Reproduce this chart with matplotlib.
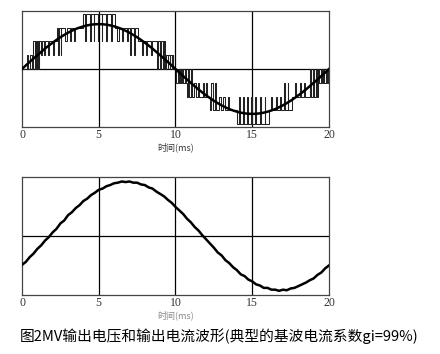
import matplotlib
matplotlib.use("Agg")
import matplotlib.pyplot as plt

plt.rcParams['font.family'] = ['Noto Sans CJK SC', 'DejaVu Sans']

# Data: multilevel output voltage (switch times in ms, level after each switch)
switch_times = [
    0.00, 0.30, 0.42, 0.55, 0.62, 0.74, 0.82, 0.88, 0.96, 1.02, 1.10, 1.14, 1.21, 1.30, 1.45,
    1.52, 1.72, 1.78, 2.00, 2.06, 2.26, 2.34, 2.40, 2.52, 2.57, 2.80, 2.90, 3.10, 3.16, 3.38,
    3.44, 4.00, 4.10, 4.18, 4.40, 4.47, 4.66, 4.72, 4.92, 4.98, 5.18, 5.24, 5.46, 5.52, 5.80,
    5.88, 6.06, 6.22, 6.30, 6.52, 6.60, 6.84, 6.90, 7.04, 7.10, 7.30, 7.36, 7.58, 7.80, 7.86,
    8.10, 8.16, 8.40, 8.46, 8.77, 8.83, 8.98, 9.04, 9.16, 9.22, 9.30, 9.36, 9.48, 9.54, 9.62,
    9.66, 9.76, 9.80, 9.86,
    10.00, 10.06, 10.14, 10.20, 10.28, 10.34, 10.40, 10.46, 10.60, 10.66, 10.74, 10.80, 10.86,
    11.00, 11.06, 11.18, 11.32, 11.48, 11.56, 11.76, 11.84, 12.00, 12.06, 12.26, 12.34, 12.42,
    12.56, 12.62, 12.84, 12.94, 13.12, 13.20, 13.40, 13.46, 14.00, 14.12, 14.20, 14.40, 14.48,
    14.66, 14.74, 14.94, 15.00, 15.20, 15.27, 15.48, 15.54, 15.80, 15.86, 16.08, 16.22, 16.30,
    16.52, 16.60, 16.82, 16.88, 17.04, 17.12, 17.30, 17.36, 17.58, 17.80, 17.88, 18.10, 18.18,
    18.40, 18.46, 18.74, 18.82, 18.96, 19.04, 19.16, 19.22, 19.30, 19.36, 19.48, 19.54, 19.62,
    19.68, 19.78, 19.84, 19.92, 20.00,
]
switch_levels = [
    0, 1, 0, 1, 0, 2, 0, 2, 0, 2, 0, 2, 1, 2, 1,
    2, 1, 2, 1, 2, 3, 1, 3, 1, 3, 2, 3, 2, 3, 2,
    3, 4, 2, 4, 2, 4, 2, 4, 2, 4, 2, 4, 2, 4, 2,
    4, 3, 2, 3, 2, 3, 2, 3, 1, 3, 1, 3, 2, 1, 2,
    1, 2, 1, 2, 0, 2, 0, 2, 0, 2, 0, 1, 0, 1, 0,
    1, 0, 1, 0,
    0, -1, 0, -1, 0, -1, 0, -1, 0, -1, -2, 0, -2,
    0, -2, -1, -2, -1, -2, -1, -2, -1, -2, -3, -1, -3,
    -1, -3, -2, -3, -2, -3, -2, -3, -4, -2, -4, -2, -4,
    -2, -4, -2, -4, -2, -4, -2, -4, -2, -4, -3, -2, -3,
    -2, -3, -2, -3, -1, -3, -1, -3, -2, -1, -2, -1, -2,
    -1, -2, 0, -2, 0, -2, 0, -2, 0, -1, 0, -1, 0,
    -1, 0, -1, 0, 0,
]

# fundamental of output voltage, sampled every 0.25 ms
time_ms = [i * 0.25 for i in range(81)]
fundamental = [
    0.00, 0.26, 0.51, 0.76, 1.00, 1.24, 1.48, 1.70, 1.91, 2.11, 2.30, 2.47, 2.63, 2.77,
    2.90, 3.00, 3.09, 3.16, 3.21, 3.24, 3.25, 3.24, 3.21, 3.16, 3.09, 3.00, 2.90, 2.77,
    2.63, 2.47, 2.30, 2.11, 1.91, 1.70, 1.48, 1.24, 1.00, 0.76, 0.51, 0.26, 0.00,
    -0.26, -0.51, -0.76, -1.00, -1.24, -1.48, -1.70, -1.91, -2.11, -2.30, -2.47, -2.63, -2.77,
    -2.90, -3.00, -3.09, -3.16, -3.21, -3.24, -3.25, -3.24, -3.21, -3.16, -3.09, -3.00, -2.90,
    -2.77, -2.63, -2.47, -2.30, -2.11, -1.91, -1.70, -1.48, -1.24, -1.00, -0.76, -0.51, -0.26, 0.00,
]

# output current (normalised)
current = [
    -0.49, -0.44, -0.36, -0.30, -0.22, -0.16, -0.08, -0.02, 0.06, 0.12, 0.21, 0.26, 0.35, 0.40,
    0.47, 0.52, 0.59, 0.63, 0.69, 0.73, 0.78, 0.80, 0.84, 0.86, 0.89, 0.90, 0.92, 0.91,
    0.92, 0.90, 0.90, 0.87, 0.86, 0.82, 0.80, 0.75, 0.71, 0.67, 0.61, 0.56, 0.49,
    0.43, 0.37, 0.29, 0.23, 0.15, 0.09, 0.01, -0.06, -0.13, -0.20, -0.28, -0.33, -0.41,
    -0.46, -0.53, -0.58, -0.65, -0.68, -0.74, -0.77, -0.82, -0.84, -0.88, -0.88, -0.91, -0.91,
    -0.93, -0.91, -0.92, -0.89, -0.88, -0.85, -0.82, -0.79, -0.75, -0.72, -0.66, -0.62, -0.55, -0.50,
]

xticks = [0, 5, 10, 15, 20]

fig = plt.figure(figsize=(4.4, 3.54), dpi=100)
ax1 = fig.add_axes([0.05, 0.6412, 0.6977, 0.3277])
ax2 = fig.add_axes([0.05, 0.1667, 0.6977, 0.334])


def style(ax):
    ax.set_xlim(0, 20)
    ax.set_xticks(xticks)
    ax.set_xticklabels([str(t) for t in xticks])
    ax.set_yticks([])
    ax.tick_params(axis='x', length=0, pad=1.5, labelsize=8.5, labelcolor='#333333',
                   labelfontfamily='Liberation Serif')
    for x in [5, 10, 15]:
        ax.axvline(x, color='black', lw=0.9, zorder=1)
    ax.axhline(0, color='black', lw=0.9, zorder=1)
    for s in ax.spines.values():
        s.set_color('#444444')
        s.set_linewidth(0.9)


style(ax1)
ax1.set_ylim(-4.2, 4.2)
ax1.step(switch_times, switch_levels, where='post', color='#222222', lw=0.75, zorder=2)
ax1.plot(time_ms, fundamental, color='black', lw=1.8, zorder=3)
ax1.set_xlabel('时间(ms)', fontsize=6.5, color='#333333', labelpad=1)

style(ax2)
ax2.set_ylim(-1.0, 1.0)
ax2.plot(time_ms, current, color='black', lw=1.8, zorder=3)
ax2.set_xlabel('时间(ms)', fontsize=6.5, color='#888888', labelpad=1)

fig.text(0.045, 0.05, '图2MV输出电压和输出电流波形(典型的基波电流系数gi=99%)',
         fontsize=10.6, color='black', ha='left', va='center')

fig.savefig('out.png', dpi=100)
